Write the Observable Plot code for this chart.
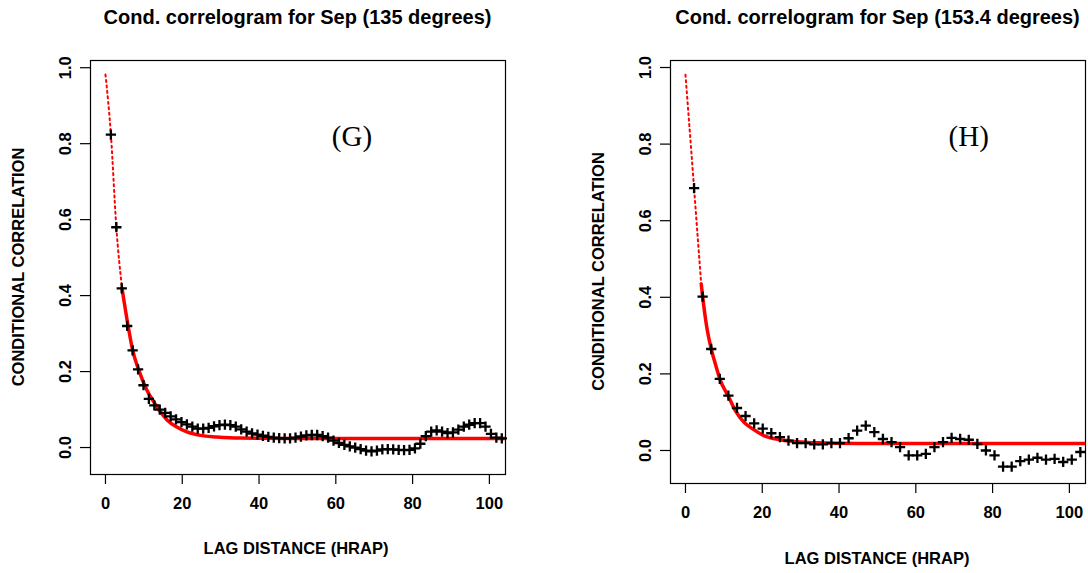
<!DOCTYPE html>
<html><head><meta charset="utf-8">
<script src="https://cdn.jsdelivr.net/npm/d3@7"></script>
<script src="https://cdn.jsdelivr.net/npm/@observablehq/plot@0.6"></script>
<style>
html,body{margin:0;padding:0;background:#fff;}
#wrap{position:relative;width:1088px;height:573px;overflow:hidden;background:#fff;}
#wrap > .panel{position:absolute;top:0;}
#overlay{position:absolute;left:0;top:0;pointer-events:none;}
</style></head><body><div id="wrap"></div>
<script>
// ---------- data ----------
const titleG = "Cond. correlogram for Sep (135 degrees)";
const titleH = "Cond. correlogram for Sep (153.4 degrees)";
const xTitle = "LAG DISTANCE (HRAP)";
const yTitle = "CONDITIONAL CORRELATION";
const xTicks = [0, 20, 40, 60, 80, 100];
const yTicks = [0.0, 0.2, 0.4, 0.6, 0.8, 1.0];

// Panel G (135 degrees)
const lagsG = [1.41,2.83,4.24,5.66,7.07,8.49,9.90,11.31,12.73,14.14,15.56,16.97,18.38,19.80,21.21,22.63,24.04,25.46,26.87,28.28,29.70,31.11,32.53,33.94,35.36,36.77,38.18,39.60,41.01,42.43,43.84,45.25,46.67,48.08,49.50,50.91,52.33,53.74,55.15,56.57,57.98,59.40,60.81,62.23,63.64,65.05,66.47,67.88,69.30,70.71,72.12,73.54,74.95,76.37,77.78,79.20,80.61,82.02,83.44,84.85,86.27,87.68,89.10,90.51,91.92,93.34,94.75,96.17,97.58,98.99,100.41,101.82,103.24];
const corrG = [0.824,0.580,0.419,0.320,0.256,0.206,0.164,0.128,0.111,0.100,0.091,0.082,0.074,0.067,0.061,0.055,0.050,0.050,0.052,0.056,0.059,0.060,0.059,0.055,0.048,0.042,0.037,0.034,0.031,0.028,0.026,0.025,0.024,0.024,0.026,0.029,0.032,0.033,0.033,0.030,0.026,0.018,0.012,0.007,0.003,0.000,-0.004,-0.008,-0.010,-0.008,-0.005,-0.004,-0.005,-0.006,-0.007,-0.006,-0.002,0.010,0.030,0.042,0.045,0.042,0.038,0.040,0.047,0.055,0.060,0.064,0.064,0.055,0.036,0.026,0.024];
const fitDotXG = [0, 1.41, 2.83, 4.3];
const fitDotYG = [0.982, 0.824, 0.580, 0.420];
const fitXG = [4.3, 5.9, 7.0, 8.7, 10.8, 12.6, 14.3, 16.1, 18.6, 21.2, 24.7, 29, 35, 50, 105];
const fitYG = [0.420, 0.320, 0.260, 0.203, 0.151, 0.120, 0.094, 0.072, 0.054, 0.041, 0.032, 0.028, 0.025, 0.024, 0.024];

// Panel H (153.4 degrees)
const lagsH = [2.24,4.47,6.71,8.94,11.18,13.42,15.65,17.89,20.12,22.36,24.60,26.83,29.07,31.30,33.54,35.78,38.01,40.25,42.49,44.72,46.96,49.19,51.43,53.67,55.90,58.14,60.37,62.61,64.85,67.08,69.32,71.55,73.79,76.03,78.26,80.50,82.73,84.97,87.21,89.44,91.68,93.91,96.15,98.39,100.62,102.86];
const corrH = [0.685,0.402,0.265,0.187,0.143,0.111,0.090,0.071,0.057,0.045,0.035,0.026,0.019,0.019,0.016,0.016,0.019,0.019,0.032,0.052,0.065,0.048,0.030,0.022,0.009,-0.013,-0.013,-0.009,0.009,0.022,0.033,0.030,0.028,0.017,0.000,-0.013,-0.042,-0.042,-0.028,-0.024,-0.019,-0.024,-0.022,-0.030,-0.024,-0.004];
const fitDotXH = [0, 2.24, 3.2, 4.1];
const fitDotYH = [0.981, 0.685, 0.555, 0.435];
const fitXH = [4.1, 4.47, 5.5, 6.71, 7.9, 8.94, 11.3, 13.0, 15.2, 17.4, 20.4, 24.7, 29, 34.3, 45, 105];
const fitYH = [0.435, 0.402, 0.325, 0.265, 0.222, 0.187, 0.139, 0.104, 0.074, 0.057, 0.039, 0.028, 0.023, 0.020, 0.018, 0.018];

// ---------- drawing ----------
const FONT = "'Liberation Sans', Arial, Helvetica, sans-serif";

function panel({lags, corr, dotX, dotY, fitX, fitY, yDomain, marginLeft, marginRight, marginBottom}) {
  return Plot.plot({
    width: 544,
    height: 573,
    marginTop: 60,
    marginBottom,
    marginLeft,
    marginRight,
    style: {fontFamily: FONT, fontSize: "16.5px", fontWeight: "bold", color: "black", background: "white", overflow: "visible"},
    x: {domain: [-3.9, 104.2]},
    y: {domain: yDomain},
    marks: [
      Plot.frame({stroke: "black", strokeWidth: 1.2}),
      Plot.axisX({ticks: xTicks, tickSize: 10, tickPadding: 13, tickFormat: d => String(d), label: null, strokeWidth: 1.2}),
      Plot.axisY({ticks: yTicks, tickSize: 10, tickPadding: 10, tickRotate: -90, tickFormat: d3.format(".1f"), label: null, strokeWidth: 1.2}),
      Plot.line(dotY, {x: dotX, y: dotY, stroke: "#ff0000", strokeWidth: 2, strokeDasharray: "2,3.5", curve: "monotone-x"}),
      Plot.line(fitY, {x: fitX, y: fitY, stroke: "#ff0000", strokeWidth: 3.5, curve: "monotone-x", clip: true}),
      Plot.dot(corr, {x: lags, y: corr, symbol: "plus", stroke: "black", strokeWidth: 2.3, r: 3.4})
    ]
  });
}

const wrap = document.getElementById("wrap");
const p1 = panel({lags: lagsG, corr: corrG, dotX: fitDotXG, dotY: fitDotYG, fitX: fitXG, fitY: fitYG,
  yDomain: [-0.071, 1.019], marginLeft: 90, marginRight: 39, marginBottom: 99});
p1.classList.add("panel"); p1.style.left = "0px";
wrap.appendChild(p1);
const p2 = panel({lags: lagsH, corr: corrH, dotX: fitDotXH, dotY: fitDotYH, fitX: fitXH, fitY: fitYH,
  yDomain: [-0.0862, 1.0183], marginLeft: 126, marginRight: 3, marginBottom: 90});
p2.classList.add("panel"); p2.style.left = "544px";
wrap.appendChild(p2);

// titles and labels
const svg = d3.select(wrap).append("svg").attr("id", "overlay").attr("width", 1088).attr("height", 573)
  .style("font-family", FONT).style("font-weight", "bold");
const labels = [
  {t: titleG, x: 297.5, y: 24, size: 20},
  {t: titleH, x: 877.5, y: 24, size: 20},
  {t: xTitle, x: 296, y: 554, size: 16.5},
  {t: xTitle, x: 877, y: 564, size: 16.5},
];
labels.forEach(l => svg.append("text").attr("x", l.x).attr("y", l.y).attr("text-anchor", "middle")
  .attr("font-size", l.size).text(l.t));
[{x: 24, y: 267}, {x: 604, y: 271.5}].forEach(p =>
  svg.append("text").attr("transform", `translate(${p.x},${p.y}) rotate(-90)`).attr("text-anchor", "middle")
    .attr("font-size", 16.5).text(yTitle));
[{t: "(G)", x: 352, y: 146}, {t: "(H)", x: 968.7, y: 146}].forEach(p =>
  svg.append("text").attr("x", p.x).attr("y", p.y).attr("text-anchor", "middle")
    .style("font-family", "'Liberation Serif', 'Times New Roman', serif").style("font-weight", "normal")
    .attr("font-size", 29).text(p.t));
</script></body></html>
